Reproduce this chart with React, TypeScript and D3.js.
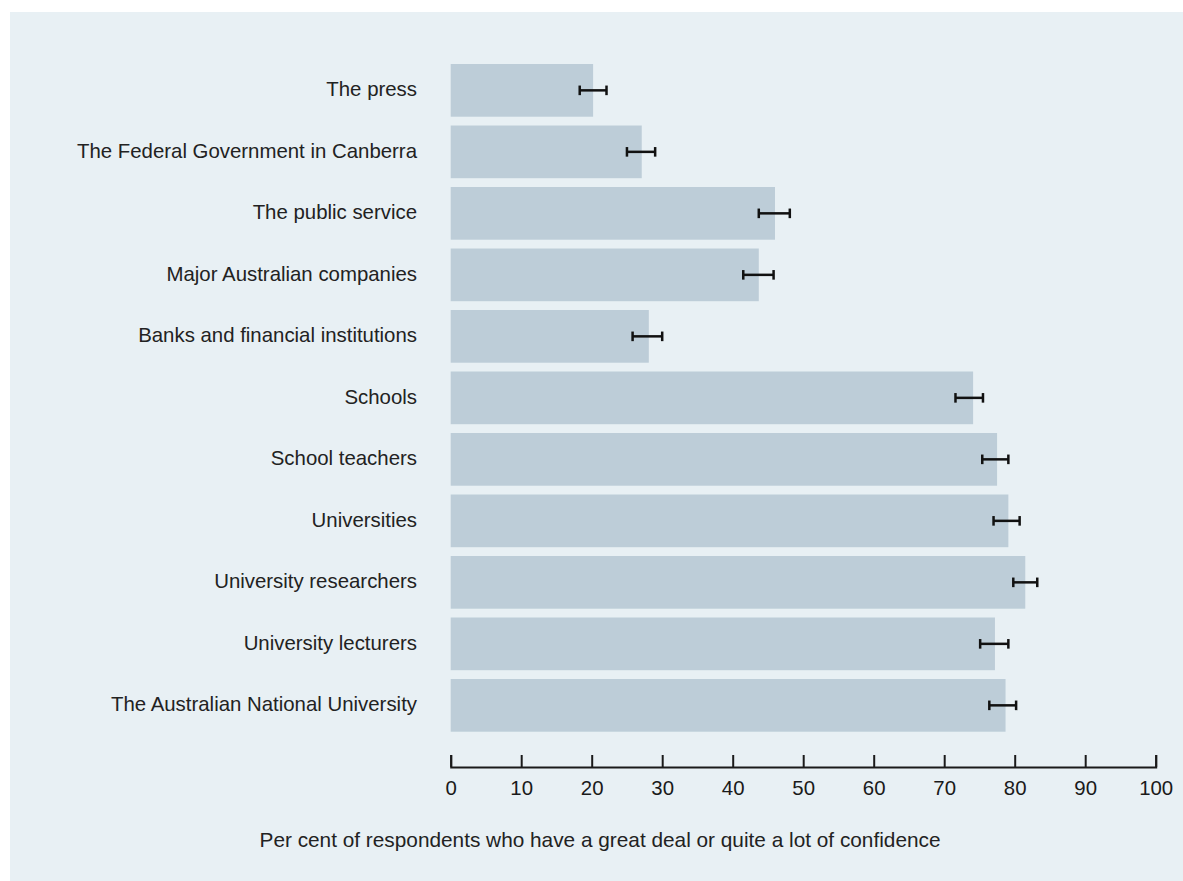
import * as d3 from "d3";
import { useEffect, useRef } from "react";

const categories = [
  "The press",
  "The Federal Government in Canberra",
  "The public service",
  "Major Australian companies",
  "Banks and financial institutions",
  "Schools",
  "School teachers",
  "Universities",
  "University researchers",
  "University lecturers",
  "The Australian National University",
];
const values = [20.2, 27.1, 46.0, 43.7, 28.1, 74.1, 77.5, 79.1, 81.5, 77.2, 78.7];
const lower = [18.3, 25.0, 43.7, 41.5, 25.8, 71.6, 75.4, 77.0, 79.8, 75.1, 76.4];
const upper = [22.1, 29.0, 48.1, 45.8, 30.0, 75.5, 79.1, 80.7, 83.2, 79.1, 80.2];
const xTicks = [0, 10, 20, 30, 40, 50, 60, 70, 80, 90, 100];
const axisTitle = "Per cent of respondents who have a great deal or quite a lot of confidence";

const FONT = "'Liberation Sans', Arial, Helvetica, sans-serif";

function App() {
  const axisRef = useRef(null);
  const width = 1183;
  const height = 881;
  const axisY = 767;

  // plot area in page coordinates
  const xScale = d3.scaleLinear().domain([0, 100]).range([450.7, 1155.7]);
  const yScale = d3
    .scaleBand<string>()
    .domain(categories)
    .range([64, 731.7])
    .paddingInner(0.143)
    .paddingOuter(0);

  useEffect(() => {
    const g = d3.select(axisRef.current);
    g.selectAll("*").remove();
    const axis = d3
      .axisBottom(xScale)
      .tickValues(xTicks)
      .tickFormat(d3.format("d"))
      .tickSizeInner(-12)
      .tickSizeOuter(-12)
      .tickPadding(14);
    g.call(axis);
    g.select(".domain").attr("stroke", "#1a1a1a").attr("stroke-width", 2);
    g.selectAll(".tick line").attr("stroke", "#1a1a1a").attr("stroke-width", 2);
    g.selectAll(".tick text")
      .attr("fill", "#1a1a1a")
      .attr("font-size", 20.4)
      .attr("font-family", FONT);
  }, []);

  const bh = yScale.bandwidth();

  return (
    <svg
      width={width}
      height={height}
      style={{ position: "absolute", left: 0, top: 0 }}
    >
      <rect x={10} y={12} width={width - 10} height={height - 12} fill="#e8f0f4" />
      {categories.map((c, i) => {
        const y = yScale(c) as number;
        const cy = y + bh / 2;
        return (
          <g key={c}>
            <rect
              x={xScale(0)}
              y={y}
              width={xScale(values[i]) - xScale(0)}
              height={bh}
              fill="#bdcdd8"
            />
            <line
              x1={xScale(lower[i])}
              x2={xScale(upper[i])}
              y1={cy}
              y2={cy}
              stroke="#111"
              strokeWidth={2.5}
            />
            <line x1={xScale(lower[i])} x2={xScale(lower[i])} y1={cy - 4.8} y2={cy + 4.8} stroke="#111" strokeWidth={2.5} />
            <line x1={xScale(upper[i])} x2={xScale(upper[i])} y1={cy - 4.8} y2={cy + 4.8} stroke="#111" strokeWidth={2.5} />
            <text
              x={417}
              y={cy}
              dy="0.28em"
              textAnchor="end"
              fontSize={20.4}
              fontFamily={FONT}
              fill="#222"
            >
              {c}
            </text>
          </g>
        );
      })}
      <g ref={axisRef} transform={`translate(0,${axisY})`} />
      <text
        x={600}
        y={847}
        textAnchor="middle"
        fontSize={20.8}
        fontFamily={FONT}
        fill="#222"
      >
        {axisTitle}
      </text>
    </svg>
  );
}

export default App;
